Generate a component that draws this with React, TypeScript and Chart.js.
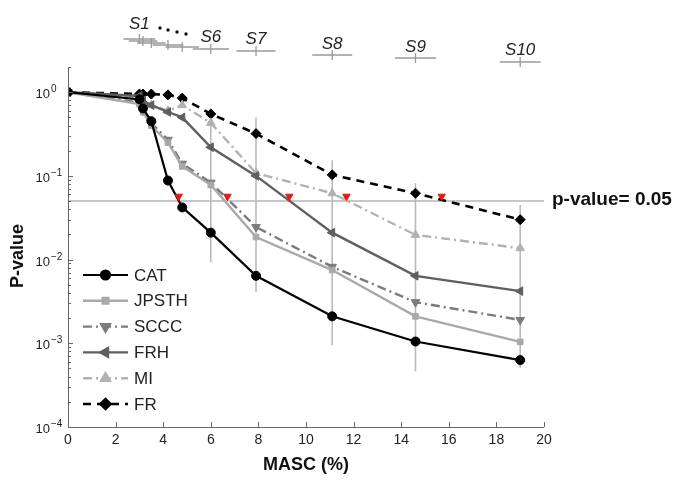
import { useEffect, useRef } from 'react';
import { Chart, registerables } from 'chart.js';
import { drawPoint } from 'chart.js/helpers';

Chart.register(...registerables);

const FONT = '"Liberation Sans", Arial, Helvetica, sans-serif';

// MASC (%) positions of the stages (x = 0 is the unmasked point)
const masc = [0, 3.0, 3.15, 3.5, 4.2, 4.8, 6.0, 7.9, 11.1, 14.6, 19.0];
const catP = [1, 0.82, 0.64, 0.45, 0.088, 0.042, 0.021, 0.0064, 0.0021, 0.00105, 0.00063];
const jpsthP = [1, 0.72, 0.58, 0.4, 0.25, 0.13, 0.078, 0.0186, 0.0075, 0.0021, 0.00104];
const scccP = [1, 0.75, 0.6, 0.43, 0.27, 0.14, 0.083, 0.0245, 0.0082, 0.0031, 0.0019];
const frhP = [1, 0.9, 0.8, 0.7, 0.58, 0.5, 0.22, 0.1, 0.021, 0.0064, 0.0042];
const miP = [1, 0.85, 0.75, 0.7, 0.6, 0.7, 0.43, 0.108, 0.062, 0.0197, 0.0137];
const frP = [1, 0.95, 0.95, 0.95, 0.93, 0.85, 0.55, 0.32, 0.103, 0.062, 0.03];

// vertical error bars (span over all methods)
const errX = [6.0, 7.9, 11.1, 14.6, 19.0];
const errLow = [0.0093, 0.0041, 0.00095, 0.00046, 0.00051];
const errHigh = [0.64, 0.5, 0.154, 0.082, 0.045];

// significance threshold and crossing points
const pThreshold = 0.05;
const crossX = [4.65, 6.7, 9.3, 11.7, 15.7];
const crossMarkY = 0.057;

// stages shown on top with horizontal MASC error bars
const stageNames = ['S1', '', '', '', '', 'S6', 'S7', 'S8', 'S9', 'S10'];
const stageX = [3.0, 3.15, 3.5, 4.2, 4.8, 6.0, 7.9, 11.1, 14.6, 19.0];
const stageHalf = [0.67, 0.6, 0.6, 0.65, 0.7, 0.76, 0.82, 0.84, 0.86, 0.86];
// layout (pixel rows) of the stage bars and labels
const stageBarY = [39, 41, 43, 45, 47, 49, 51, 55, 58, 62];
const stageLabelY = [29, 0, 0, 0, 0, 42, 44, 49, 52, 55];

const yDecades = [0, -1, -2, -3, -4];
const xTicksStep = 2;

const series = [
  { label: 'CAT', data: catP, color: '#000000', dash: [] as number[], style: 'circle', radius: 4.5, rotation: 0, width: 2.2 },
  { label: 'JPSTH', data: jpsthP, color: '#a9a9a9', dash: [] as number[], style: 'rect', radius: 4, rotation: 0, width: 2.4 },
  { label: 'SCCC', data: scccP, color: '#7b7b7b', dash: [9, 4, 2, 4], style: 'triangle', radius: 5, rotation: 180, width: 2.4 },
  { label: 'FRH', data: frhP, color: '#5f5f5f', dash: [] as number[], style: 'triangle', radius: 5, rotation: -90, width: 2.4 },
  { label: 'MI', data: miP, color: '#b2b2b2', dash: [9, 4, 2, 4], style: 'triangle', radius: 5, rotation: 0, width: 2.4 },
  { label: 'FR', data: frP, color: '#000000', dash: [8, 6], style: 'rectRot', radius: 5, rotation: 0, width: 2.6 },
];

const overlay = {
  id: 'overlay',
  beforeDatasetsDraw(chart: any) {
    const { ctx, chartArea: a, scales } = chart;
    const x = scales.x, y = scales.y;
    ctx.save();
    const yp = y.getPixelForValue(pThreshold);
    ctx.strokeStyle = '#b4b4b4';
    ctx.lineWidth = 1.5;
    ctx.beginPath();
    ctx.moveTo(a.left, yp);
    ctx.lineTo(a.right, yp);
    ctx.stroke();
    ctx.strokeStyle = '#bababa';
    ctx.lineWidth = 1.6;
    errX.forEach((v, i) => {
      const px = x.getPixelForValue(v);
      ctx.beginPath();
      ctx.moveTo(px, y.getPixelForValue(errHigh[i]));
      ctx.lineTo(px, y.getPixelForValue(errLow[i]));
      ctx.stroke();
    });
    ctx.restore();
  },
  afterDraw(chart: any) {
    const { ctx, chartArea: a, scales } = chart;
    const x = scales.x, y = scales.y;
    ctx.save();
    // axes
    ctx.strokeStyle = '#666666';
    ctx.lineWidth = 1;
    ctx.beginPath();
    ctx.moveTo(a.left + 0.5, a.top);
    ctx.lineTo(a.left + 0.5, a.bottom + 0.5);
    ctx.lineTo(a.right, a.bottom + 0.5);
    ctx.stroke();
    // x ticks (inward)
    for (let v = 0; v <= 20; v += xTicksStep) {
      const px = Math.round(x.getPixelForValue(v)) + 0.5;
      ctx.beginPath();
      ctx.moveTo(px, a.bottom);
      ctx.lineTo(px, a.bottom - 5);
      ctx.stroke();
    }
    // y ticks (inward), major + minor
    yDecades.forEach((d) => {
      const py = Math.round(y.getPixelForValue(Math.pow(10, d))) + 0.5;
      ctx.beginPath();
      ctx.moveTo(a.left, py);
      ctx.lineTo(a.left + 5, py);
      ctx.stroke();
      for (let m = 2; m <= 9; m++) {
        const val = m * Math.pow(10, d);
        if (val > y.max) break;
        const pm = Math.round(y.getPixelForValue(val)) + 0.5;
        ctx.beginPath();
        ctx.moveTo(a.left, pm);
        ctx.lineTo(a.left + 3, pm);
        ctx.stroke();
      }
      // label 10^d
      ctx.fillStyle = '#222222';
      ctx.font = `13px ${FONT}`;
      ctx.textAlign = 'right';
      ctx.textBaseline = 'alphabetic';
      ctx.fillText('10', a.left - 18, py + 5);
      ctx.font = `10px ${FONT}`;
      ctx.textAlign = 'left';
      ctx.fillText(d === 0 ? '0' : '\u2212' + String(-d), a.left - 17, py - 1);
    });
    // axis titles
    ctx.fillStyle = '#111111';
    ctx.font = `bold 18px ${FONT}`;
    ctx.textAlign = 'center';
    ctx.textBaseline = 'middle';
    ctx.fillText('MASC (%)', (a.left + a.right) / 2, 465);
    ctx.save();
    ctx.translate(18, 256);
    ctx.rotate(-Math.PI / 2);
    ctx.fillText('P-value', 0, 0);
    ctx.restore();
    // threshold label
    ctx.font = `bold 19px ${FONT}`;
    ctx.textAlign = 'left';
    ctx.fillText('p-value= 0.05', a.right + 8, y.getPixelForValue(pThreshold) - 1);
    // legend
    const lx0 = 83, lx1 = 128, rowY0 = 275, rowStep = 25.8;
    series.forEach((s, i) => {
      const ly = rowY0 + i * rowStep;
      ctx.strokeStyle = s.color;
      ctx.lineWidth = s.width;
      ctx.setLineDash(s.dash);
      ctx.beginPath();
      ctx.moveTo(lx0, ly);
      ctx.lineTo(lx1, ly);
      ctx.stroke();
      ctx.setLineDash([]);
      ctx.fillStyle = s.color;
      drawPoint(ctx, { pointStyle: s.style, radius: s.radius, rotation: s.rotation, borderWidth: 1 } as any, (lx0 + lx1) / 2, ly);
      ctx.fillStyle = '#222222';
      ctx.font = `17px ${FONT}`;
      ctx.textAlign = 'left';
      ctx.textBaseline = 'middle';
      ctx.fillText(s.label, 134, ly + 1);
    });
    // stages on top
    ctx.strokeStyle = '#9a9a9a';
    ctx.lineWidth = 1.3;
    stageX.forEach((v, i) => {
      const px = x.getPixelForValue(v);
      const l = x.getPixelForValue(v - stageHalf[i]);
      const r = x.getPixelForValue(v + stageHalf[i]);
      const by = stageBarY[i];
      ctx.beginPath();
      ctx.moveTo(l, by);
      ctx.lineTo(r, by);
      ctx.moveTo(px, by - 5);
      ctx.lineTo(px, by + 5);
      ctx.stroke();
      if (stageNames[i]) {
        ctx.fillStyle = '#222222';
        ctx.font = `italic 17px ${FONT}`;
        ctx.textAlign = 'center';
        ctx.textBaseline = 'alphabetic';
        ctx.fillText(stageNames[i], px, stageLabelY[i]);
      }
    });
    // dots between S1 and S6
    ctx.fillStyle = '#111111';
    [[160, 28], [168, 30], [177, 32], [186, 34]].forEach(([dx, dy]) => {
      ctx.beginPath();
      ctx.arc(dx, dy, 1.7, 0, Math.PI * 2);
      ctx.fill();
    });
    ctx.restore();
  },
};

export default function App() {
  const ref = useRef<HTMLCanvasElement | null>(null);
  useEffect(() => {
    if (!ref.current) return;
    const datasets: any[] = [
      {
        label: 'cross',
        data: crossX.map((v) => ({ x: v, y: crossMarkY })),
        showLine: false,
        pointStyle: 'triangle',
        rotation: 180,
        pointRadius: 4.3,
        pointBackgroundColor: '#e31a1a',
        pointBorderColor: '#e31a1a',
        pointBorderWidth: 1,
      },
      ...series.map((s) => ({
        label: s.label,
        data: masc.map((v, i) => ({ x: v, y: s.data[i] })),
        borderColor: s.color,
        backgroundColor: s.color,
        borderWidth: s.width,
        borderDash: s.dash,
        pointStyle: s.style,
        pointRadius: s.radius,
        rotation: s.rotation,
        pointBackgroundColor: s.color,
        pointBorderColor: s.color,
        pointBorderWidth: 1,
        tension: 0,
        fill: false,
      })),
    ];
    const chart = new Chart(ref.current, {
      type: 'line',
      data: { datasets },
      plugins: [overlay],
      options: {
        animation: false,
        responsive: true,
        maintainAspectRatio: false,
        layout: { padding: { top: 67, right: 138, left: 0, bottom: 0 } },
        plugins: { legend: { display: false }, tooltip: { enabled: false } },
        scales: {
          x: {
            type: 'linear',
            min: 0,
            max: 20,
            ticks: { stepSize: 2, font: { size: 14, family: FONT }, color: '#222222', padding: 5, maxRotation: 0 },
            grid: { display: false, drawTicks: false },
            border: { display: false },
            afterFit: (s: any) => { s.height = 54; },
          },
          y: {
            type: 'logarithmic',
            min: 1e-4,
            max: 2,
            ticks: { display: false },
            grid: { display: false, drawTicks: false },
            border: { display: false },
            afterFit: (s: any) => { s.width = 68; },
          },
        },
      } as any,
    });
    return () => chart.destroy();
  }, []);
  return (
    <div style={{ position: 'fixed', left: 0, top: 0, width: 682, height: 481, background: '#ffffff' }}>
      <canvas ref={ref} />
    </div>
  );
}
